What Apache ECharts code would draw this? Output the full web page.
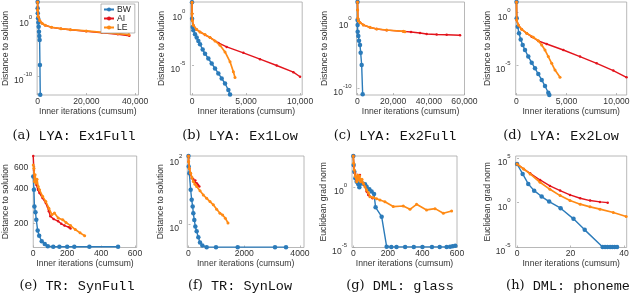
<!DOCTYPE html>
<html><head><meta charset="utf-8">
<script src="https://cdn.jsdelivr.net/npm/echarts@6/dist/echarts.min.js"></script>
<style>html,body{margin:0;padding:0;background:#fff}#c{width:640px;height:299px}</style>
</head><body><div id="c"></div>
<script>
// ---------- (a) LYA: Ex1Full ----------
const aBW_x = [0, 10, 60, 180, 300, 420, 560, 690, 820, 950, 1080];
const aBW_y = [950, 74, 9.8, 1.32, 0.23, 0.045, 6.0e-3, 1.05e-3, 2.1e-4, 8.5e-9, 5e-14];
const aAI_x = [0, 20, 260, 900, 1810, 3110, 5700, 9580, 13460, 19940, 26400, 32880, 37600];
const aAI_y = [950, 38, 2.6, 0.51, 0.174, 0.078, 0.034, 0.019, 0.0126, 0.0071, 0.0038, 0.0021, 0.00112];
const aLE_x = [0, 20, 260, 900, 1810, 3110, 5700, 9580, 13460, 19940, 26400, 32880, 37410];
const aLE_y = [950, 38, 2.6, 0.51, 0.174, 0.078, 0.035, 0.020, 0.0135, 0.0079, 0.0046, 0.0027, 0.0018];
const aXTicks = [0, 20000, 40000];
const aYTicks = [1e-10, 1];
// ---------- (b) LYA: Ex1Low ----------
const bBW_x = [0, 5, 62, 123, 278, 432, 586, 741, 988, 1204, 1512, 1821, 2130, 2438, 2747, 3056, 3364, 3519];
const bBW_y = [12, 0.31, 4.9e-2, 2.3e-2, 9.5e-3, 4.6e-3, 2.2e-3, 1.05e-3, 3.2e-4, 1.3e-4, 4.4e-5, 1.45e-5, 4.8e-6, 1.6e-6, 5.2e-7, 1.7e-7, 4e-8, 1.5e-8];
const bAI_x = [0, 5, 30, 123, 432, 741, 1204, 1667, 2438, 3210, 4753, 6296, 7840, 9383, 10000];
const bAI_y = [12, 0.93, 0.21, 7.1e-2, 2.7e-2, 1.6e-2, 8.3e-3, 4.6e-3, 1.4e-3, 5.8e-4, 1.55e-4, 3.8e-5, 9.3e-6, 2.1e-6, 7.6e-7];
const bLE_x = [0, 5, 30, 123, 432, 741, 1204, 1667, 2130, 2593, 3056, 3519, 3827, 3981];
const bLE_y = [12, 0.93, 0.21, 7.1e-2, 2.7e-2, 1.6e-2, 8.9e-3, 4.6e-3, 2.2e-3, 8.3e-4, 1.9e-4, 2.1e-5, 2.3e-6, 6.5e-7];
const bXTicks = [0, 5000, 10000];
const bYTicks = [1e-5, 1];
// ---------- (c) LYA: Ex2Full ----------
const cBW_x = [0, 20, 60, 100, 450, 840, 1400, 1780, 2340, 2900];
const cBW_y = [590, 1.26, 0.23, 0.024, 5.5e-3, 1.12e-3, 2.6e-4, 1.86e-5, 2.8e-7, 1.3e-11];
const cAI_x = [0, 100, 200, 450, 1400, 3270, 7010, 10760, 16370, 25700, 30000, 35050, 38800, 44400, 50000, 57500];
const cAI_y = [590, 38, 2.24, 1.0, 0.51, 0.23, 0.105, 0.059, 0.040, 0.026, 0.021, 0.015, 0.0107, 0.0089, 0.0085, 0.0069];
const cLE_x = [0, 100, 200, 450, 1400, 3270, 7010, 10760, 16370, 25700, 26600];
const cLE_y = [590, 38, 2.24, 1.0, 0.51, 0.23, 0.105, 0.059, 0.042, 0.027, 0.024];
const cXTicks = [0, 20000, 40000, 60000];
const cYTicks = [1e-10, 1];
// ---------- (d) LYA: Ex2Low ----------
const dBW_x = [0, 20, 120, 250, 420, 620, 850, 1180, 1520, 1850, 2180, 2520, 2850, 3180, 3280];
const dBW_y = [10.5, 0.29, 0.046, 0.0107, 2.8e-3, 8.1e-4, 2.7e-4, 6.3e-5, 1.66e-5, 4.8e-6, 1.38e-6, 3.7e-7, 9.8e-8, 2.2e-8, 1.35e-8];
const dAI_x = [0, 20, 180, 520, 1020, 1520, 2180, 3020, 4680, 6350, 8020, 9680, 11000];
const dAI_y = [10.5, 0.20, 0.066, 0.0257, 0.0107, 5.1e-3, 1.95e-3, 1.02e-3, 2.7e-4, 6.3e-5, 1.45e-5, 2.9e-6, 6.6e-7];
const dLE_x = [0, 20, 180, 520, 1020, 1680, 2180, 2520, 2850, 3180, 3520, 3850, 4350];
const dLE_y = [10.5, 0.20, 0.066, 0.0257, 0.0107, 4.5e-3, 2.1e-3, 8.1e-4, 2.7e-4, 6.3e-5, 1.45e-5, 3.3e-6, 6.6e-7];
const dXTicks = [0, 5000, 10000];
const dYTicks = [1e-5, 1];
// ---------- (e) TR: SynFull ----------
const eBW_x = [0, 4, 7, 13, 18, 26, 35, 50, 68, 86, 118, 154, 200, 242, 331, 500];
const eBW_y = [494, 382, 276, 246, 213, 173, 156, 140, 133, 127, 126, 126, 126, 126, 126, 126];
const eAI_x = [0, 4, 7, 11, 18, 28, 37, 55, 74, 92, 101, 120, 147, 165, 184, 211, 220];
const eAI_y = [738, 562, 494, 449, 421, 382, 358, 325, 295, 251, 228, 216, 207, 197, 190, 184, 180];
const eLE_x = [0, 4, 7, 11, 16, 22, 29, 37, 55, 74, 92, 110, 125, 147, 174, 193, 220, 248, 276, 303];
const eLE_y = [620, 581, 449, 511, 434, 470, 407, 382, 336, 304, 267, 235, 243, 220, 213, 202, 190, 176, 165, 156];
const eXTicks = [0, 200, 400, 600];
const eYTicks = [200, 400, 600];
// ---------- (f) TR: SynLow ----------
const fBW_x = [0, 5, 30, 78, 114, 150, 173, 209, 245, 293, 353, 413, 497, 652, 987, 1766, 3106, 3501];
const fBW_y = [117, 56, 35, 11, 5.4, 3.4, 2.1, 1.3, 0.83, 0.59, 0.39, 0.27, 0.22, 0.195, 0.195, 0.195, 0.195, 0.195];
const fAI_x = [0, 5, 30, 78, 126, 173, 209, 245, 293, 341, 389];
const fAI_y = [117, 79, 49, 33, 24.5, 23, 19.5, 21, 17.4, 15.5, 13.8];
const fLE_x = [0, 5, 30, 78, 126, 173, 233, 293, 413, 533, 652, 772, 891, 1011, 1131, 1226, 1322, 1418];
const fLE_y = [117, 79, 49, 35, 26, 19.5, 16.2, 13.8, 10.2, 7.6, 6.0, 4.8, 3.8, 2.8, 2.1, 1.86, 1.48, 1.07];
const fXTicks = [0, 2000, 4000];
const fYTicks = [1, 100];
// ---------- (g) DML: glass ----------
const gBW_x = [0, 2, 6, 12, 19.5, 29, 35, 42.6, 54, 67.7, 77, 93, 106, 120, 129, 164, 193, 220, 250, 300, 350, 400, 455, 500, 540, 560, 575, 590];
const gBW_y = [407, 72, 20, 5.6, 2.95, 1.78, 1.0, 2.1, 2.1, 1.78, 1.12, 0.68, 0.44, 0.275, 0.0214, 0.00355, 1.1e-5, 1.07e-5, 1.07e-5, 1.07e-5, 1.07e-5, 1.07e-5, 1.07e-5, 1.07e-5, 1.07e-5, 1.1e-5, 1.2e-5, 1.35e-5];
const gAI_x = [0, 4, 9.6, 19.5, 29, 38.6, 48, 58, 67.7, 77, 87, 96.5, 112];
const gAI_y = [407, 52.5, 14.5, 4.1, 7.8, 10.7, 2.95, 2.1, 1.12, 0.44, 0.23, 0.166, 0.12];
const gLE_x = [0, 2, 6, 12, 19.5, 25, 31, 36.7, 42.6, 50, 58, 67.7, 77, 87, 96.5, 116, 135, 154, 183, 231, 289, 328, 366, 424, 473, 521, 569];
const gLE_y = [407, 100, 27.5, 7.8, 2.95, 10.7, 4.1, 8.7, 2.95, 4.6, 2.1, 1.12, 0.60, 0.355, 0.166, 0.138, 0.112, 0.087, 0.063, 0.0245, 0.0275, 0.0145, 0.038, 0.0129, 0.0166, 0.0068, 0.0105];
const gXTicks = [0, 200, 400, 600];
const gYTicks = [1e-5, 1];
// ---------- (h) DML: phoneme ----------
const hBW_x = [0, 2.1, 4.2, 6.4, 9.2, 12, 16.3, 21.1, 25.3, 32, 32.9, 33.8, 34.8, 35.6, 36.5, 37.4];
const hBW_y = [22900, 1740, 129, 22.9, 4.9, 1.35, 0.24, 0.0151, 8.7e-4, 1e-5, 1e-5, 1e-5, 1e-5, 1e-5, 1e-5, 1e-5];
const hAI_x = [0, 2.5, 4.9, 8.6, 12.3, 16.1, 19.8, 23.6, 27.3, 31.0, 33.9];
const hAI_y = [22900, 6300, 2040, 363, 78, 23, 7.6, 3.2, 1.74, 1.23, 1.02];
const hLE_x = [0, 2.5, 4.9, 8.6, 12.3, 16.1, 19.8, 23.6, 27.3, 31.0, 36.0, 40.8];
const hLE_y = [22900, 6300, 1740, 200, 32, 6.3, 1.74, 0.68, 0.34, 0.186, 0.078, 0.0275];
const hXTicks = [0, 20, 40];
const hYTicks = [1e-5, 1, 1e5];

const methodNames = ['BW', 'AI', 'LE'];
const captions = [
  ['(a)', ' LYA: Ex1Full'], ['(b)', ' LYA: Ex1Low'], ['(c)', ' LYA: Ex2Full'], ['(d)', ' LYA: Ex2Low'],
  ['(e)', ' TR: SynFull'], ['(f)', ' TR: SynLow'], ['(g)', ' DML: glass'], ['(h)', ' DML: phoneme']
];
const yTitles = ['Distance to solution', 'Distance to solution', 'Distance to solution', 'Distance to solution',
  'Distance to solution', 'Distance to solution', 'Euclidean grad norm', 'Euclidean grad norm'];
const xTitle = 'Inner iterations (cumsum)';

// layout (positions/styles)
const layout = [
  {g:[31.5, 2, 107, 93],   xr:[-200, 41350], yr:[4.6e-14, 950],  yGap:19.5, cap:[74, 136], comma:true},
  {g:[190.4, 2, 111.8, 93], xr:[-150, 10200], yr:[1.32e-8, 12.5], yGap:18.5, cap:[240, 136], comma:true},
  {g:[356.6, 2, 107.9, 93], xr:[-500, 60000], yr:[1.0e-11, 590],  yGap:21.5, cap:[395, 136], comma:true},
  {g:[515.7, 2, 111, 93],   xr:[-80, 11020],  yr:[1.35e-8, 10.5], yGap:17.7, cap:[561, 136], comma:true},
  {g:[26, 156, 110.7, 91.5],  xr:[0, 610],     yr:[124, 738],     yGap:15.5, cap:[77, 286]},
  {g:[187.3, 156, 116.7, 91.5], xr:[-43, 4147], yr:[0.19, 117.5], yGap:15.3, cap:[240, 286]},
  {g:[352, 156, 105, 91.5],  xr:[-7.5, 600],   yr:[9.5e-6, 407],  yGap:17, cap:[400, 286]},
  {g:[515.7, 156, 111, 91.5], xr:[-0.5, 41],   yr:[9e-6, 182000], yGap:17.7, cap:[568, 286]}
];
const panelData = [
  {xt:aXTicks, yt:aYTicks, s:[[aBW_x,aBW_y],[aAI_x,aAI_y],[aLE_x,aLE_y]]},
  {xt:bXTicks, yt:bYTicks, s:[[bBW_x,bBW_y],[bAI_x,bAI_y],[bLE_x,bLE_y]]},
  {xt:cXTicks, yt:cYTicks, s:[[cBW_x,cBW_y],[cAI_x,cAI_y],[cLE_x,cLE_y]]},
  {xt:dXTicks, yt:dYTicks, s:[[dBW_x,dBW_y],[dAI_x,dAI_y],[dLE_x,dLE_y]]},
  {xt:eXTicks, yt:eYTicks, s:[[eBW_x,eBW_y],[eAI_x,eAI_y],[eLE_x,eLE_y]], plainY:true},
  {xt:fXTicks, yt:fYTicks, s:[[fBW_x,fBW_y],[fAI_x,fAI_y],[fLE_x,fLE_y]]},
  {xt:gXTicks, yt:gYTicks, s:[[gBW_x,gBW_y],[gAI_x,gAI_y],[gLE_x,gLE_y]]},
  {xt:hXTicks, yt:hYTicks, s:[[hBW_x,hBW_y],[hAI_x,hAI_y],[hLE_x,hLE_y]]}
];

const FONT = 'Liberation Sans';
const boxColor = '#a6a6a6';
const txtColor = '#333';
const styles = [
  {color:'#2b7bba', width:1.4, symbolSize:4.5},
  {color:'#e3141c', width:1.4, symbolSize:2.5},
  {color:'#ff8a14', width:1.7, symbolSize:3}
];

function fmtLog(v){ const e = Math.round(Math.log10(v)); return '{b|10}{s|' + e + '}'; }
const supRich = {
  b:{fontSize:8.6, fontFamily:FONT, color:txtColor, lineHeight:14, verticalAlign:'bottom'},
  s:{fontSize:6, fontFamily:FONT, color:txtColor, lineHeight:6, verticalAlign:'top'}
};

const grids = [], xAxes = [], yAxes = [], series = [], graphics = [];
layout.forEach((L, i) => {
  const P = panelData[i];
  const fmtX = L.comma ? (v => v.toLocaleString('en-US')) : (v => String(v));
  grids.push({left:L.g[0], top:L.g[1], width:L.g[2], height:L.g[3], show:true,
    borderColor:boxColor, borderWidth:0.8, backgroundColor:'rgba(0,0,0,0)', containLabel:false});
  xAxes.push({type:'value', gridIndex:i, min:L.xr[0], max:L.xr[1],
    axisLine:{show:false}, splitLine:{show:false},
    axisTick:{show:true, inside:true, length:2, customValues:P.xt, lineStyle:{color:boxColor, width:0.8}},
    axisLabel:{customValues:P.xt, formatter:fmtX, margin:2, fontSize:8.6, fontFamily:FONT, color:txtColor},
    name:xTitle, nameLocation:'middle', nameGap:11,
    nameTextStyle:{fontSize:8.6, fontFamily:FONT, color:txtColor}});
  yAxes.push({type:'log', logBase:10, gridIndex:i, min:L.yr[0], max:L.yr[1],
    axisLine:{show:false}, splitLine:{show:false}, minorTick:{show:false},
    axisTick:{show:true, inside:true, length:2, customValues:P.yt, lineStyle:{color:boxColor, width:0.8}},
    axisLabel:{customValues:P.yt, formatter: P.plainY ? (v => String(Math.round(v))) : fmtLog,
      rich:supRich, margin:5, fontSize:8.6, fontFamily:FONT, color:txtColor,
      padding: P.plainY ? [2,0,0,0] : [4,0,0,0]},
    name:yTitles[i], nameLocation:'middle', nameGap:L.yGap,
    nameTextStyle:{fontSize:8.6, fontFamily:FONT, color:txtColor}});
  P.s.forEach((pair, k) => {
    const st = styles[k];
    series.push({type:'line', name:methodNames[k], xAxisIndex:i, yAxisIndex:i,
      data: pair[0].map((x, j) => [x, pair[1][j]]),
      symbol:'circle', symbolSize:st.symbolSize, showSymbol:true,
      lineStyle:{color:st.color, width:st.width}, itemStyle:{color:st.color},
      z: 2 + k, clip:true, animation:false, silent:true});
  });
  graphics.push({type:'text', x:L.cap[0], y:L.cap[1],
    style:{text:'{p|' + captions[i][0] + '}{m|' + captions[i][1] + '}',
      align:'center', verticalAlign:'middle',
      rich:{p:{fontFamily:'DejaVu Serif', fontSize:13, fill:'#111'},
            m:{fontFamily:'Liberation Mono', fontSize:13.5, fill:'#111'}}}});
});

const chart = echarts.init(document.getElementById('c'), null, {renderer:'canvas'});
chart.setOption({
  animation:false,
  backgroundColor:'#fff',
  grid:grids, xAxis:xAxes, yAxis:yAxes, series:series,
  legend:{data:methodNames, left:101, top:4, orient:'vertical', itemWidth:10, itemHeight:5, itemGap:0,
    padding:[1,4,1,2], selectedMode:false, backgroundColor:'#fff', borderColor:'#999', borderWidth:0.7,
    textStyle:{fontSize:8.6, fontFamily:FONT, color:'#222', padding:[0,0,0,-2]}, z:20},
  graphic:graphics
});
</script>
</body></html>
